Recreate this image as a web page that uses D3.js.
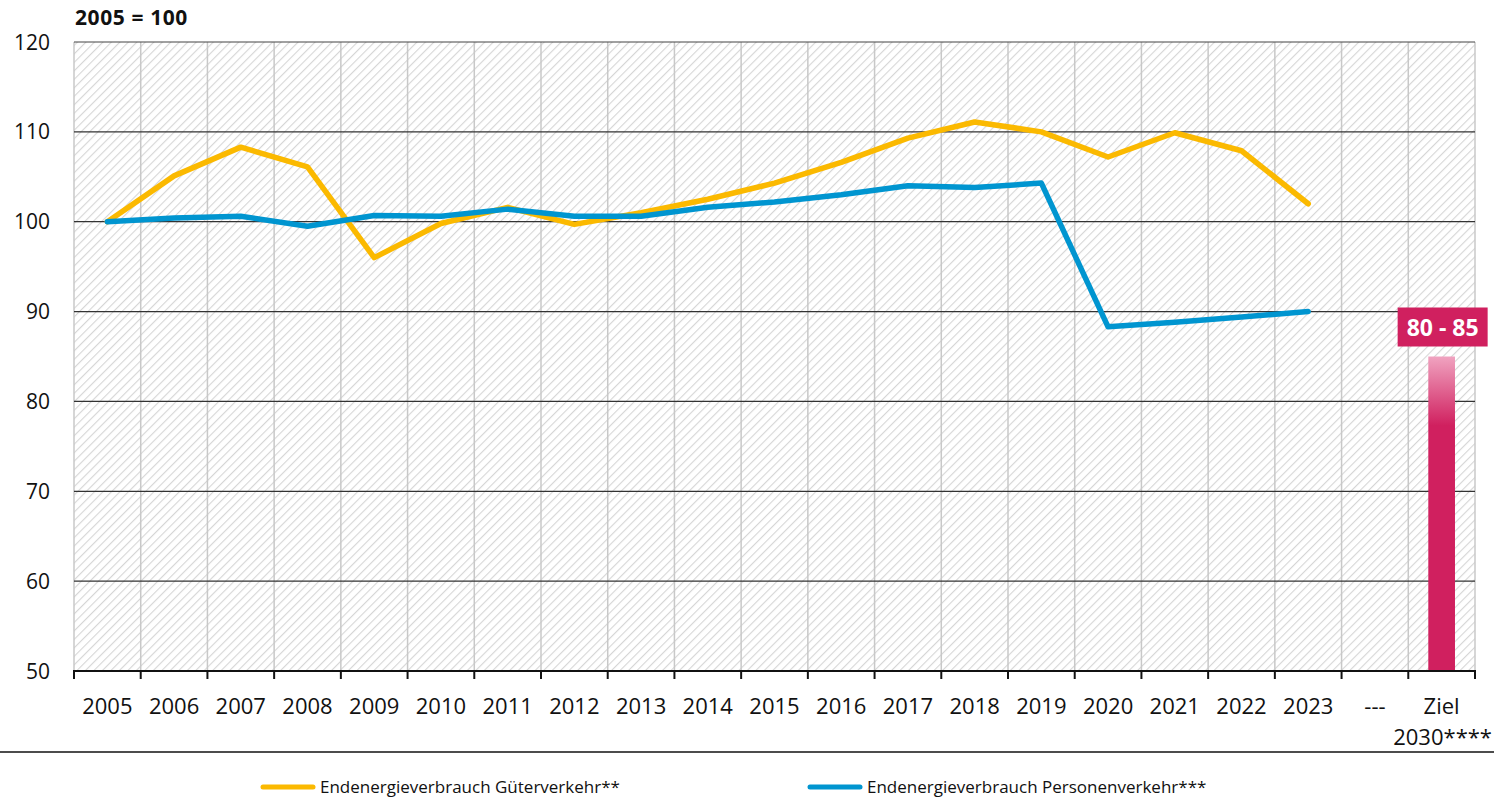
<!DOCTYPE html>
<meta charset="utf-8">
<script src="https://d3js.org/d3.v7.min.js"></script>
<style>
  body { margin: 0; background: #fff; }
  text { font-family: "Open Sans", "DejaVu Sans", sans-serif; }
</style>
<div id="chart"></div>
<script>

// categories on the x axis
const years = ["2005", "2006", "2007", "2008", "2009", "2010", "2011", "2012", "2013", "2014",
    "2015", "2016", "2017", "2018", "2019", "2020", "2021", "2022", "2023"];
const categories = years.concat(["---", "Ziel"]);

// index values, 2005 = 100
const gueter = [100, 105.1, 108.3, 106.1, 96.0, 99.8, 101.6, 99.7, 101.0, 102.5,
    104.3, 106.6, 109.3, 111.1, 110.0, 107.2, 109.9, 107.9, 102.0];
const personen = [100, 100.4, 100.6, 99.5, 100.7, 100.6, 101.4, 100.6, 100.6, 101.6,
    102.2, 103.0, 104.0, 103.8, 104.3, 88.3, 88.8, 89.4, 90.0];

// target 2030: 80 - 85
const zielLow = 80, zielHigh = 85;
const zielLabel = "80 - 85";

const yTicks = [50, 60, 70, 80, 90, 100, 110, 120];
const legendLabels = ["Endenergieverbrauch Güterverkehr**", "Endenergieverbrauch Personenverkehr***"];

const W = 1494, H = 799;
const plotLeft = 74, plotRight = 1475, plotTop = 42, plotBottom = 671;

const svg = d3.select("#chart").append("svg")
    .attr("width", W)
    .attr("height", H);

// hatch pattern for the plot background
const defs = svg.append("defs");
const pat = defs.append("pattern")
    .attr("id", "hatch")
    .attr("patternUnits", "userSpaceOnUse")
    .attr("width", 6)
    .attr("height", 6)
    .attr("patternTransform", "rotate(45)");
pat.append("rect").attr("width", 6).attr("height", 6).attr("fill", "#fff");
pat.append("line")
    .attr("x1", 0).attr("y1", 0).attr("x2", 0).attr("y2", 6)
    .attr("stroke", "#d6d6d6")
    .attr("stroke-width", 2.2);

const grad = defs.append("linearGradient")
    .attr("id", "zielGrad")
    .attr("x1", 0).attr("y1", 0).attr("x2", 0).attr("y2", 1);
grad.append("stop").attr("offset", "0%").attr("stop-color", "#f0a3c0");
grad.append("stop").attr("offset", "22%").attr("stop-color", "#d0205f");
grad.append("stop").attr("offset", "100%").attr("stop-color", "#d0205f");

const x = d3.scaleBand()
    .domain(categories)
    .range([plotLeft, plotRight]);

const y = d3.scaleLinear()
    .domain([50, 120])
    .range([plotBottom, plotTop]);

svg.append("rect")
    .attr("x", plotLeft).attr("y", plotTop)
    .attr("width", plotRight - plotLeft).attr("height", plotBottom - plotTop)
    .attr("fill", "url(#hatch)");

// vertical grid at band boundaries
svg.append("g")
    .selectAll("line")
    .data(categories)
    .join("line")
    .attr("x1", d => x(d) + x.bandwidth())
    .attr("x2", d => x(d) + x.bandwidth())
    .attr("y1", plotTop).attr("y2", plotBottom)
    .attr("stroke", "#c8c8c8")
    .attr("stroke-width", 1.5);

svg.append("line")
    .attr("x1", plotLeft).attr("x2", plotLeft)
    .attr("y1", plotTop).attr("y2", plotBottom)
    .attr("stroke", "#c8c8c8")
    .attr("stroke-width", 1.5);

// horizontal grid lines
svg.append("g")
    .selectAll("line")
    .data(yTicks.filter(d => d > 50 && d < 120))
    .join("line")
    .attr("x1", plotLeft).attr("x2", plotRight)
    .attr("y1", d => y(d)).attr("y2", d => y(d))
    .attr("stroke", "#333")
    .attr("stroke-width", 1.3);

svg.append("line")
    .attr("x1", plotLeft).attr("x2", plotRight)
    .attr("y1", y(120)).attr("y2", y(120))
    .attr("stroke", "#444")
    .attr("stroke-width", 1.2);

// y axis labels
svg.append("g")
    .selectAll("text")
    .data(yTicks)
    .join("text")
    .attr("x", 50)
    .attr("y", d => y(d) + 7.5)
    .attr("text-anchor", "end")
    .attr("font-size", 21)
    .attr("fill", "#111")
    .text(d => d);

svg.append("text")
    .attr("x", 75).attr("y", 25)
    .attr("font-size", 21)
    .attr("font-weight", "bold")
    .attr("letter-spacing", 0.6)
    .attr("fill", "#111")
    .text("2005 = 100");

// target bar
const zx = x("Ziel") + x.bandwidth() * 0.3;
const zw = x.bandwidth() * 0.4;
svg.append("rect")
    .attr("x", zx)
    .attr("y", y(zielHigh))
    .attr("width", zw)
    .attr("height", y(50) - y(zielHigh))
    .attr("fill", "url(#zielGrad)");

// lines
const line = d3.line()
    .x((d, i) => x(years[i]) + x.bandwidth() / 2)
    .y(d => y(d));

svg.append("path")
    .datum(gueter)
    .attr("d", line)
    .attr("fill", "none")
    .attr("stroke", "#fbb900")
    .attr("stroke-width", 5.5)
    .attr("stroke-linejoin", "round")
    .attr("stroke-linecap", "round");

svg.append("path")
    .datum(personen)
    .attr("d", line)
    .attr("fill", "none")
    .attr("stroke", "#0095d0")
    .attr("stroke-width", 5.5)
    .attr("stroke-linejoin", "round")
    .attr("stroke-linecap", "round");

// target label box
const boxW = 90, boxH = 39;
const boxCx = x("Ziel") + x.bandwidth() / 2 + 0;
svg.append("rect")
    .attr("x", boxCx - boxW / 2 + 1)
    .attr("y", y(zielHigh) - 49)
    .attr("width", boxW)
    .attr("height", boxH)
    .attr("fill", "#d0205f");
svg.append("text")
    .attr("x", boxCx + 1)
    .attr("y", y(zielHigh) - 21)
    .attr("text-anchor", "middle")
    .attr("font-size", 23)
    .attr("font-weight", "bold")
    .attr("fill", "#fff")
    .text(zielLabel);

// x axis
svg.append("line")
    .attr("x1", plotLeft - 1).attr("x2", plotRight + 1)
    .attr("y1", plotBottom).attr("y2", plotBottom)
    .attr("stroke", "#111")
    .attr("stroke-width", 2);

svg.append("g")
    .selectAll("line")
    .data([plotLeft].concat(categories.map(d => x(d) + x.bandwidth())))
    .join("line")
    .attr("x1", d => d).attr("x2", d => d)
    .attr("y1", plotBottom).attr("y2", plotBottom + 8)
    .attr("stroke", "#111")
    .attr("stroke-width", 2);

svg.append("g")
    .selectAll("text")
    .data(categories)
    .join("text")
    .attr("x", d => x(d) + x.bandwidth() / 2)
    .attr("y", 714)
    .attr("text-anchor", "middle")
    .attr("font-size", 22)
    .attr("fill", "#111")
    .text(d => d);

svg.append("text")
    .attr("x", W - 2)
    .attr("y", 745)
    .attr("text-anchor", "end")
    .attr("font-size", 22)
    .attr("fill", "#111")
    .text("2030****");

svg.append("line")
    .attr("x1", 0).attr("x2", W)
    .attr("y1", 752).attr("y2", 752)
    .attr("stroke", "#111")
    .attr("stroke-width", 1.5);

// legend
const legendX = [261, 808];
const legendColors = ["#fbb900", "#0095d0"];
const legend = svg.append("g")
    .selectAll("g")
    .data(legendLabels)
    .join("g")
    .attr("transform", (d, i) => `translate(${legendX[i]},787)`);
legend.append("line")
    .attr("x1", 2).attr("x2", 52)
    .attr("stroke", (d, i) => legendColors[i])
    .attr("stroke-width", 5)
    .attr("stroke-linecap", "round");
legend.append("text")
    .attr("x", 59)
    .attr("y", 6)
    .attr("font-size", 17)
    .attr("font-family", "'Liberation Sans Narrow', 'Roboto', sans-serif")
    .attr("fill", "#111")
    .text(d => d);

</script>
